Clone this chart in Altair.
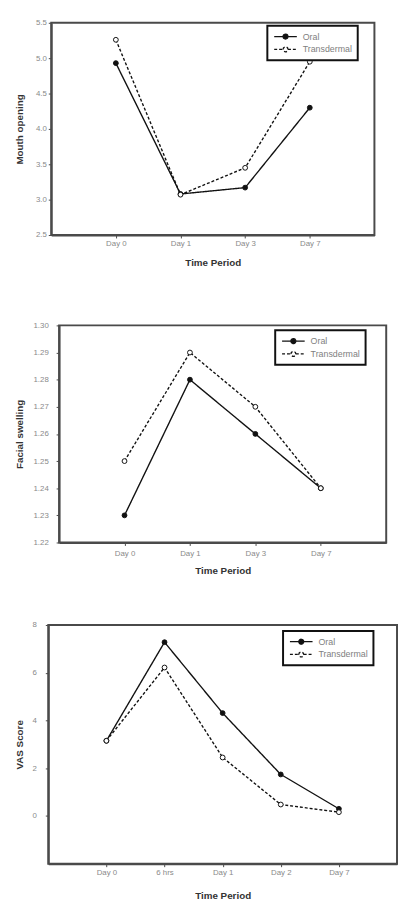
import altair as alt
import pandas as pd

groups = ["Oral", "Transdermal"]

p1_days = ["Day 0", "Day 1", "Day 3", "Day 7"]
p1_oral = [4.93, 3.08, 3.17, 4.30]
p1_trans = [5.26, 3.07, 3.45, 4.95]
p1_ticks = [2.5, 3.0, 3.5, 4.0, 4.5, 5.0, 5.5]

p2_days = ["Day 0", "Day 1", "Day 3", "Day 7"]
p2_oral = [1.23, 1.28, 1.26, 1.24]
p2_trans = [1.25, 1.29, 1.27, 1.24]
p2_ticks = [1.22, 1.23, 1.24, 1.25, 1.26, 1.27, 1.28, 1.29, 1.30]

p3_days = ["Day 0", "6 hrs", "Day 1", "Day 2", "Day 7"]
p3_oral = [3.15, 7.28, 4.31, 1.74, 0.30]
p3_trans = [3.15, 6.22, 2.45, 0.48, 0.16]
p3_ticks = [0, 2, 4, 6, 8]

FONT = "Liberation Sans"
INK = "#111111"
FRAME = "#4a4a4a"
SYMBOL = "M-0.8,0L1,0M2,0L3.8,0M1,0A0.5,0.5,0,1,1,2,0A0.5,0.5,0,1,1,1,0Z"


def panel(days, oral, trans, ytitle, ydom, yvals, yfmt, w, h,
          ylabel_pad, ytitle_pad, xlabel_pad, xtitle_pad, lx, ly):
    df = pd.DataFrame({
        "Time": days * 2,
        "Group": ["Oral"] * len(days) + ["Transdermal"] * len(days),
        "Value": oral + trans,
    })
    x = alt.X("Time:N", sort=days, scale=alt.Scale(type="point", padding=1),
              axis=alt.Axis(title="Time Period", labelAngle=0,
                            labelPadding=xlabel_pad, titlePadding=xtitle_pad))
    y = alt.Y("Value:Q", scale=alt.Scale(domain=ydom, nice=False, zero=False),
              axis=alt.Axis(title=ytitle, values=yvals, format=yfmt,
                            labelPadding=ylabel_pad, titlePadding=ytitle_pad))
    leg = alt.Legend(title=None, orient="none", legendX=lx, legendY=ly,
                     symbolType=SYMBOL, symbolSize=100, symbolStrokeWidth=1.3,
                     symbolStrokeColor=INK, labelFont=FONT, labelFontSize=9,
                     labelColor="#808080", labelOffset=19, strokeColor=INK,
                     padding=5, rowPadding=1, fillColor="white")
    base = alt.Chart(df)
    line = base.mark_line(color=INK, strokeWidth=1.4).encode(
        x=x, y=y,
        strokeDash=alt.StrokeDash("Group:N",
                                  scale=alt.Scale(domain=groups, range=[[1, 0], [3, 2]]),
                                  legend=leg))
    pts = base.mark_point(shape="circle", filled=True, size=24, stroke=INK,
                          strokeWidth=1, opacity=1).encode(
        x=x, y=y,
        fill=alt.Fill("Group:N", scale=alt.Scale(domain=groups, range=[INK, "white"]),
                      legend=leg))
    return alt.layer(line, pts).properties(
        width=w, height=h, view=alt.ViewBackground(stroke=FRAME, strokeWidth=2))


def spacer(w):
    return alt.Chart(pd.DataFrame({"s": [0]})).mark_rule(opacity=0).encode(
        x=alt.value(0), y=alt.value(0), y2=alt.value(1)
    ).properties(width=w, height=1, view=alt.ViewBackground(strokeOpacity=0))


def indep(c):
    return c.resolve_scale(fill="independent", strokeDash="independent").resolve_legend(
        fill="independent", strokeDash="independent")


p1 = panel(p1_days, p1_oral, p1_trans, "Mouth opening", [2.5, 5.5], p1_ticks, ".1f",
           329, 216, 2, 11, 2, 10, 220, 3)
p2 = panel(p2_days, p2_oral, p2_trans, "Facial swelling", [1.22, 1.30], p2_ticks, ".2f",
           333, 221, 8, 9, 4, 9, 220, 5)
p3 = panel(p3_days, p3_oral, p3_trans, "VAS Score", [-2, 8], p3_ticks, "d",
           355, 243, 9, 8, 2, 14, 239, 6)

row1 = indep(alt.hconcat(spacer(5), p1, spacing=0))
row2 = indep(alt.hconcat(spacer(5), p2, spacing=0))
row3 = indep(alt.hconcat(spacer(5), p3, spacing=0))

inner = indep(alt.vconcat(row1, row2, spacing=53))
chart = indep(alt.vconcat(inner, row3, spacing=44)).properties(
    padding={"left": 0, "top": 2, "right": 0, "bottom": 0}
).configure_view(strokeWidth=0).configure_axis(
    domainColor=FRAME, domainWidth=2, tickColor=FRAME, tickSize=3, tickWidth=1,
    labelColor="#8a8a8a", labelFont=FONT, labelFontSize=8,
    titleFont=FONT, titleFontSize=10, titleColor="#333333", titleFontWeight="bold",
    grid=False
).configure_legend(strokeWidth=2)

chart.save("out.html", embed_options={"renderer": "svg", "actions": False})
